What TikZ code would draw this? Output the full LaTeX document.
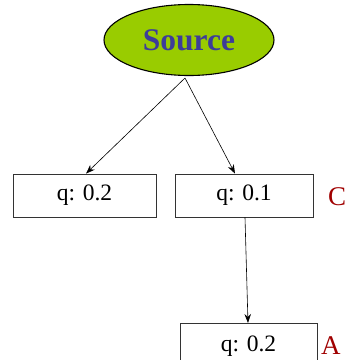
\documentclass[tikz,border=0pt]{standalone}
\usepackage{fontspec}
\setmainfont{Liberation Serif}
\usetikzlibrary{shapes.geometric,arrows.meta}
\definecolor{srcfill}{HTML}{99CC00}
\definecolor{srctext}{HTML}{3D3D99}
\definecolor{tagred}{HTML}{A00000}
\begin{document}
\begin{tikzpicture}[x=1pt,y=1pt,
  qfont/.style={font=\fontsize{23.5}{26}\selectfont},
  qbox/.style={draw=black!80,line width=0.8pt,minimum height=43pt,inner sep=0pt,qfont},
  tag/.style={text=tagred,font=\fontsize{27}{29}\selectfont,inner sep=0pt},
  link/.style={-{Stealth[length=9pt,width=6.5pt]},line width=0.6pt}]
\useasboundingbox (0,0) rectangle (347,360);
% root of the tree
\node[ellipse,draw,line width=1.1pt,fill=srcfill,minimum width=170pt,minimum height=71pt,inner sep=0pt,
  text=srctext,font=\fontsize{31.5}{34}\selectfont\bfseries] (src) at (189,320) {Source};
% first level
\node[qbox,minimum width=143pt] (b1) at (84.5,164.5) {q: 0.2};
\node[qbox,minimum width=138pt] (b2) at (244,164.5) {q: 0.1};
% second level, running past the lower edge
\node[qbox,minimum width=137pt,minimum height=50pt,anchor=north west] (b3) at (180,37) {};
\node[qfont] (b3t) at (248.5,14) {q: 0.2};
\node[tag,anchor=west] (c) at (328,163) {C};
\node[tag,anchor=west] (a) at (321,14) {A};
\coordinate (fork) at (185,282);
\draw[link] (fork) -- (b1.north -| 86,0);
\draw[link] (fork) -- (b2.north -| 235,0);
\draw[link] (b2.south -| 245,0) -- (b3.north -| 248,0);
\end{tikzpicture}
\end{document}
